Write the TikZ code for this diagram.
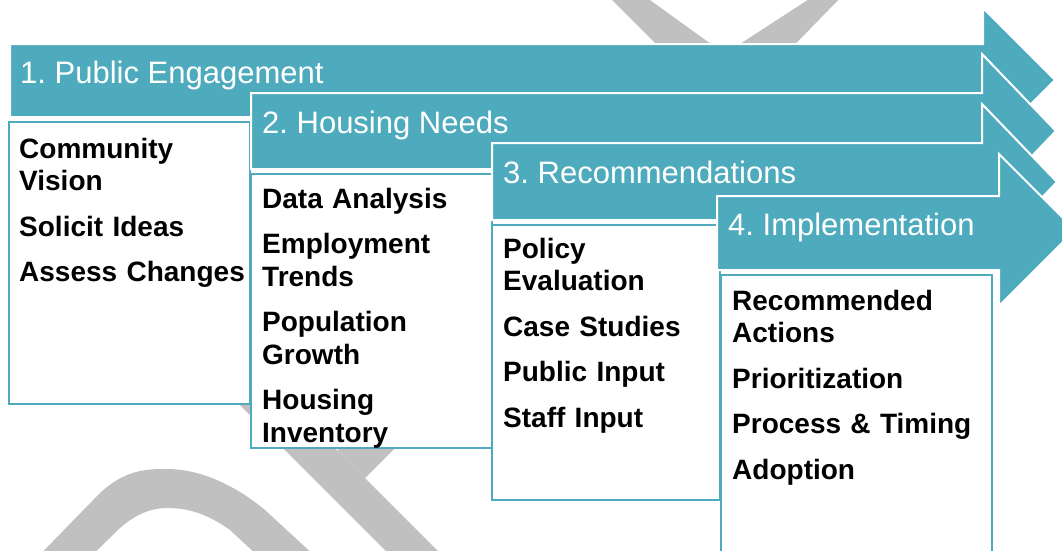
\documentclass[tikz,border=0pt]{standalone}
\usepackage{fontspec}
\setmainfont{Liberation Sans}
\frenchspacing
\definecolor{stageteal}{RGB}{78,170,189}
\definecolor{wmgray}{RGB}{192,192,192}

\begin{document}
\begin{tikzpicture}[x=1pt,y=-1pt,
  stage/.style={fill=stageteal,draw=white,line width=2pt,line join=miter},
  taskbox/.style={fill=white,draw=stageteal,line width=2pt},
  wmark/.style={fill=wmgray},
  stagetext/.style={anchor=base west,inner sep=0pt,text=white,
    font=\fontsize{31}{36}\selectfont},
  tasktext/.style={anchor=base west,inner sep=0pt,align=left,text width=250pt,
    font=\fontsize{28}{32.5}\selectfont\bfseries}]
\useasboundingbox (0,0) rectangle (1062,550);
\clip (0,0) rectangle (1062,550);

% watermark strokes behind everything
\fill[wmark] (602,-10) -- (636,-10) -- (747,70) -- (682,70) -- cycle;
\fill[wmark] (823,-10) -- (848,-10) -- (770,70) -- (700,70) -- cycle;
\fill[wmark] (25,570) -- (100,493) .. controls (125,470) and (145,469) .. (167,469)
  .. controls (200,469) and (235,485) .. (265,510) -- (330,570) -- (273,570)
  -- (230,530) .. controls (205,512) and (185,508) .. (167,508)
  .. controls (150,508) and (135,515) .. (120,528) -- (77,570) -- cycle;
\fill[wmark] (215,380) -- (267,380) -- (457,570) -- (405,570) -- cycle;
\fill[wmark] (337.5,450.5) -- (488,300) -- (543,300) -- (365,478) -- cycle;

% stage 1
\filldraw[stage] (10,44) -- (983,44) -- (983,8) -- (1055,80) -- (983,152)
  -- (983,117) -- (10,117) -- cycle;
\node[stagetext] (stage1) at (20,83) {1. Public Engagement};
\draw[taskbox] (9,122) rectangle (250,404);
\node[tasktext] (tasks1) at (19,158)
  {Community\\Vision\\[13pt]Solicit Ideas\\[13pt]Assess Changes};

% stage 2
\filldraw[stage] (251,93) -- (982,93) -- (982,54) -- (1056,131) -- (982,208)
  -- (982,169) -- (251,169) -- cycle;
\node[stagetext] (stage2) at (262,133) {2. Housing Needs};
\draw[taskbox] (251,174) rectangle (492,448);
\node[tasktext] (tasks2) at (262,208)
  {Data Analysis\\[13pt]Employment\\Trends\\[13pt]Population\\Growth\\[13pt]Housing\\Inventory};

% stage 3
\filldraw[stage] (492,143) -- (982,143) -- (982,104) -- (1057,182) -- (982,260)
  -- (982,220) -- (492,220) -- cycle;
\node[stagetext] (stage3) at (503,183) {3. Recommendations};
\draw[taskbox] (492,225) rectangle (720,500);
\node[tasktext] (tasks3) at (503,258)
  {Policy\\Evaluation\\[13pt]Case Studies\\[13pt]Public Input\\[13pt]Staff Input};

% stage 4
\filldraw[stage] (717,196) -- (999,196) -- (999,154) -- (1075,230) -- (999,306)
  -- (999,270) -- (717,270) -- cycle;
\node[stagetext] (stage4) at (728,235) {4. Implementation};
\draw[taskbox] (721,275) rectangle (992,570);
\node[tasktext] (tasks4) at (732,310)
  {Recommended\\Actions\\[13pt]Prioritization\\[13pt]Process \& Timing\\[13pt]Adoption};
\end{tikzpicture}
\end{document}
